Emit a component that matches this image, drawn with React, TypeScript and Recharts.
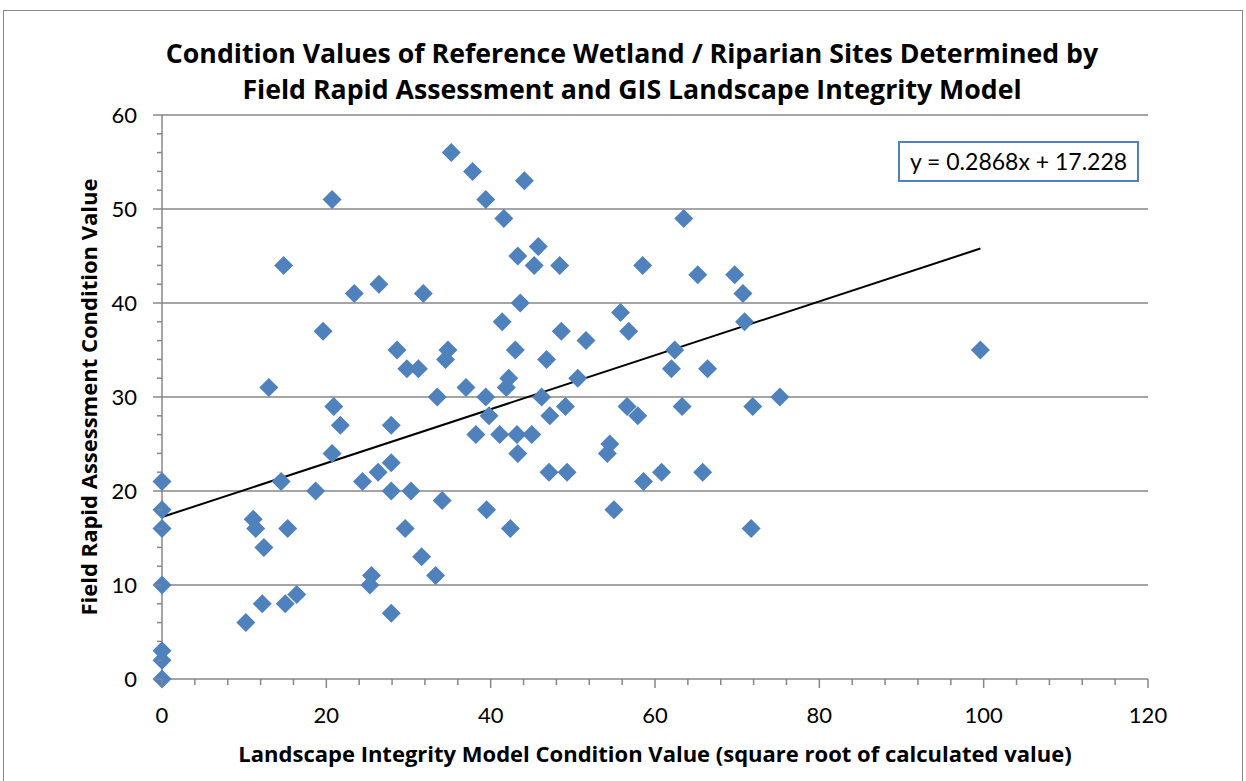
import {
  ScatterChart,
  Scatter,
  XAxis,
  YAxis,
  ReferenceLine,
} from "recharts";

// landscape model value (x) vs field assessment value (y)
const modelValues = [
  0, 0, 0, 0, 0, 0, 0, 10.2, 11.1, 11.4, 12.2, 12.4, 13.0, 14.5, 14.8, 15.0,
  15.3, 16.4, 18.7, 19.6, 20.7, 20.7, 20.9, 21.7, 23.4, 24.4, 25.3, 25.5, 26.3,
  26.4, 27.9, 27.9, 27.9, 27.9, 28.6, 29.6, 29.8, 30.3, 31.2, 31.6, 31.8, 33.3,
  33.5, 34.1, 34.5, 34.8, 35.2, 37.0, 37.8, 38.2, 39.4, 39.4, 39.5, 39.8, 41.1,
  41.4, 41.6, 41.9, 42.2, 42.4, 43.0, 43.2, 43.3, 43.3, 43.6, 44.1, 45.0, 45.3,
  45.8, 46.2, 46.8, 47.2, 47.1, 48.4, 48.6, 49.1, 49.3, 50.6, 51.6, 54.2, 54.5,
  55.0, 55.8, 56.6, 56.8, 57.9, 58.5, 58.6, 60.8, 62.0, 62.4, 63.3, 63.5, 65.2,
  65.8, 66.4, 69.7, 70.7, 70.9, 71.7, 71.9, 75.2, 99.6,
];

const fieldValues = [
  21, 18, 16, 10, 3, 2, 0, 6, 17, 16, 8, 14, 31, 21, 44, 8,
  16, 9, 20, 37, 51, 24, 29, 27, 41, 21, 10, 11, 22,
  42, 27, 23, 20, 7, 35, 16, 33, 20, 33, 13, 41, 11,
  30, 19, 34, 35, 56, 31, 54, 26, 51, 30, 18, 28, 26,
  38, 49, 31, 32, 16, 35, 26, 45, 24, 40, 53, 26, 44,
  46, 30, 34, 28, 22, 44, 37, 29, 22, 32, 36, 24, 25,
  18, 39, 29, 37, 28, 44, 21, 22, 33, 35, 29, 49, 43,
  22, 33, 43, 41, 38, 16, 29, 30, 35,
];

const slope = 0.2868;
const intercept = 17.228;

const xMajorTicks = [0, 20, 40, 60, 80, 100, 120];
const yMajorTicks = [0, 10, 20, 30, 40, 50, 60];
const xTicks = Array.from({ length: 31 }, (_, i) => i * 4);
const yTicks = Array.from({ length: 31 }, (_, i) => i * 2);
const gridLines = [10, 20, 30, 40, 50, 60];

const points = modelValues.map((x, i) => ({ x, y: fieldValues[i] }));
const xMax = Math.max(...modelValues);

const GRAY = "#878787";
const BLUE = "#4f81bd";
const FONT = "Lato, 'Open Sans', sans-serif";
const BOLD_FONT = "'Open Sans', Lato, sans-serif";

const XTick = (props: any) => {
  const { x, y, payload } = props;
  const major = xMajorTicks.includes(payload.value);
  return (
    <g>
      <line x1={x} x2={x} y1={y} y2={y + (major ? 9 : 6)} stroke={GRAY} strokeWidth={1.5} />
      {major && (
        <text x={x} y={y + 44} textAnchor="middle" fontSize={22} fill="#000" fontFamily={FONT}>
          {payload.value}
        </text>
      )}
    </g>
  );
};

const YTick = (props: any) => {
  const { x, y, payload } = props;
  const major = yMajorTicks.includes(payload.value);
  return (
    <g>
      <line x1={x - (major ? 9 : 5)} x2={x} y1={y} y2={y} stroke={GRAY} strokeWidth={1.5} />
      {major && (
        <text x={x - 25} y={y + 8} textAnchor="end" fontSize={22} fill="#000" fontFamily={FONT}>
          {payload.value}
        </text>
      )}
    </g>
  );
};

const Diamond = (props: any) => {
  const { cx, cy } = props;
  const r = 9.5;
  return (
    <polygon
      points={`${cx},${cy - r} ${cx + r},${cy} ${cx},${cy + r} ${cx - r},${cy}`}
      fill={BLUE}
    />
  );
};

export default function App() {
  return (
    <div style={{ position: "relative", width: 1246, height: 781, fontFamily: FONT, background: "#fff" }}>
      <style>{"body{margin:0}"}</style>

      <div
        style={{
          position: "absolute",
          left: 3,
          top: 10,
          width: 1240,
          height: 790,
          border: `1.5px solid ${GRAY}`,
          boxSizing: "border-box",
        }}
      />

      <div
        style={{
          position: "absolute",
          left: 132,
          top: 35,
          width: 1000,
          textAlign: "center",
          fontFamily: BOLD_FONT,
          fontWeight: 700,
          fontSize: 26.7,
          lineHeight: "36px",
          color: "#000",
        }}
      >
        Condition Values of Reference Wetland / Riparian Sites Determined by
        <br />
        Field Rapid Assessment and GIS Landscape Integrity Model
      </div>

      <div style={{ position: "absolute", left: 0, top: 0 }}>
        <ScatterChart width={1246} height={781} margin={{ top: 115, right: 98, bottom: 0, left: 0 }}>
          <XAxis
            type="number"
            dataKey="x"
            domain={[0, 120]}
            ticks={xTicks}
            interval={0}
            height={102}
            tickSize={0}
            tickMargin={0}
            tickLine={false}
            axisLine={{ stroke: GRAY, strokeWidth: 1.5 }}
            tick={<XTick />}
          />
          <YAxis
            type="number"
            dataKey="y"
            domain={[0, 60]}
            ticks={yTicks}
            interval={0}
            width={162}
            tickSize={0}
            tickMargin={0}
            tickLine={false}
            axisLine={{ stroke: GRAY, strokeWidth: 1.5 }}
            tick={<YTick />}
          />
          {gridLines.map((v) => (
            <ReferenceLine key={v} y={v} stroke={GRAY} strokeWidth={1.5} />
          ))}
          <ReferenceLine
            segment={[
              { x: 0, y: intercept },
              { x: xMax, y: slope * xMax + intercept },
            ]}
            stroke="#000"
            strokeWidth={2}
            ifOverflow="visible"
          />
          <Scatter data={points} shape={<Diamond />} isAnimationActive={false} />
        </ScatterChart>
      </div>

      <div
        style={{
          position: "absolute",
          left: -212,
          top: 382,
          width: 600,
          height: 30,
          lineHeight: "30px",
          textAlign: "center",
          fontFamily: BOLD_FONT,
          fontWeight: 700,
          fontSize: 22,
          transform: "rotate(-90deg)",
          color: "#000",
        }}
      >
        Field Rapid Assessment Condition Value
      </div>

      <div
        style={{
          position: "absolute",
          left: 155,
          top: 738,
          width: 1000,
          lineHeight: "30px",
          textAlign: "center",
          fontFamily: BOLD_FONT,
          fontWeight: 700,
          fontSize: 22,
          color: "#000",
        }}
      >
        Landscape Integrity Model Condition Value (square root of calculated value)
      </div>

      <div
        style={{
          position: "absolute",
          left: 898,
          top: 141,
          width: 241,
          height: 41,
          boxSizing: "border-box",
          border: `2px solid ${BLUE}`,
          background: "#fff",
          textAlign: "center",
          fontSize: 23,
          lineHeight: "37px",
          color: "#000",
        }}
      >
        y = 0.2868x + 17.228
      </div>
    </div>
  );
}
